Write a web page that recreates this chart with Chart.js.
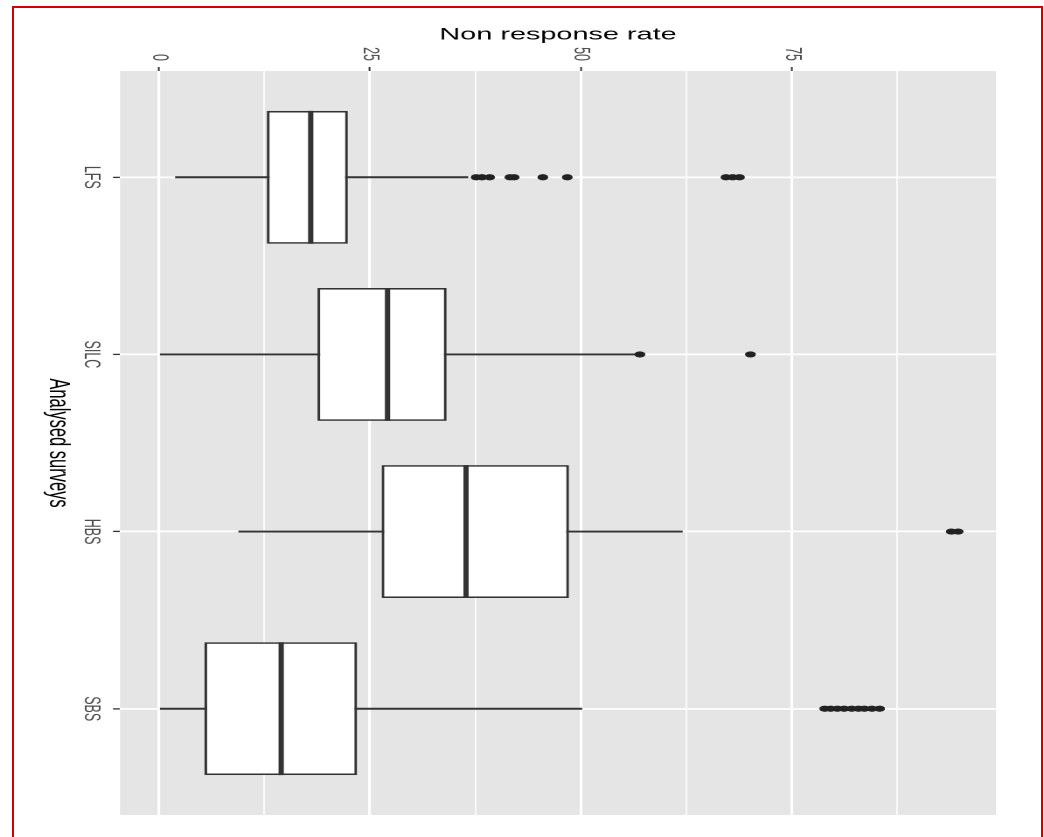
<!DOCTYPE html>
<html>
<head>
<meta charset="utf-8">
<script src="https://cdn.jsdelivr.net/npm/chart.js"></script>
<style>
  html, body { margin: 0; padding: 0; background: #fff; }
  body { width: 1044px; height: 837px; overflow: hidden; position: relative; }
  #stretch { position: absolute; left: 0; top: 0; transform: scaleX(1.7487); transform-origin: 0 0; }
  #frame { position: absolute; left: 12px; top: 6px; width: 1027px; height: 840px; border: 2px solid #d00000; border-bottom: none; }
</style>
</head>
<body>
<div id="stretch"><canvas id="myChart" width="597" height="837"></canvas></div>
<div id="frame"></div>
<script>
const categories = ["LFS", "SILC", "HBS", "SBS"];
const whiskerLow = [2.0, 0.2, 9.5, 0.2];
const lowerQuartile = [12.8, 18.8, 26.4, 5.4];
const medians = [18.0, 27.1, 36.4, 14.5];
const upperQuartile = [22.4, 34.1, 48.6, 23.5];
const whiskerHigh = [36.6, 56.6, 62.0, 50.1];

const outliersLFS = [37.6, 38.3, 39.2, 41.6, 42.1, 45.5, 48.4, 67.2, 68.0, 68.8];
const outliersSILC = [57.0, 70.1];
const outliersHBS = [93.9, 94.7];
const outliersSBS = [78.9, 79.6, 80.4, 81.2, 82.1, 82.9, 83.6, 84.5, 85.4];
const outlierLists = [outliersLFS, outliersSILC, outliersHBS, outliersSBS];

const xTickLabels = [0, 25, 50, 75];
const xGridValues = [0, 12.5, 25, 37.5, 50, 62.5, 75, 87.5];

const xTitle = "Non response rate";
const yTitle = "Analysed surveys";

// the reference image is stretched sideways, the canvas is drawn narrow and scaled by css
const FONT = "'Liberation Sans', Arial, sans-serif";

function rotatedText(ctx, text, x, y, align) {
  ctx.save();
  ctx.translate(x, y);
  ctx.rotate(Math.PI / 2);
  ctx.textAlign = align;
  ctx.textBaseline = "middle";
  ctx.fillText(text, 0, 0);
  ctx.restore();
}

const ggplotLook = {
  id: "ggplotLook",
  beforeDraw(chart) {
    const { ctx, chartArea: a } = chart;
    ctx.save();
    ctx.fillStyle = "#e5e5e5";
    ctx.fillRect(a.left, a.top, a.right - a.left, a.bottom - a.top);
    ctx.restore();
  },
  afterDatasetsDraw(chart) {
    const { ctx } = chart;
    const x = chart.scales.x;
    const boxes = chart.getDatasetMeta(1).data;
    ctx.save();
    ctx.strokeStyle = "#333";
    ctx.lineWidth = 3;
    boxes.forEach((bar, i) => {
      const px = x.getPixelForValue(medians[i]);
      ctx.beginPath();
      ctx.moveTo(px, bar.y - bar.height / 2);
      ctx.lineTo(px, bar.y + bar.height / 2);
      ctx.stroke();
    });
    ctx.restore();
  },
  afterDraw(chart) {
    const { ctx, chartArea: a } = chart;
    const x = chart.scales.x;
    const y = chart.scales.y;
    ctx.save();
    ctx.fillStyle = "#4d4d4d";
    ctx.font = "12.5px " + FONT;
    xTickLabels.forEach((v) => {
      rotatedText(ctx, String(v), x.getPixelForValue(v), 61, "right");
    });
    categories.forEach((c, i) => {
      rotatedText(ctx, c, 52, y.getPixelForValue(i), "center");
    });
    ctx.fillStyle = "#000";
    ctx.font = "16.5px " + FONT;
    ctx.textAlign = "center";
    ctx.textBaseline = "middle";
    ctx.fillText(xTitle, (a.left + a.right) / 2, 35);
    rotatedText(ctx, yTitle, 33, (a.top + a.bottom) / 2, "center");
    ctx.restore();
  },
};

new Chart(document.getElementById("myChart"), {
  type: "bar",
  data: {
    datasets: [
      {
        label: "whiskers",
        data: categories.map((c, i) => ({ x: [whiskerLow[i], whiskerHigh[i]], y: i })),
        backgroundColor: "#333",
        barThickness: 1.3,
        grouped: false,
        order: 3,
      },
      {
        label: "boxes",
        data: categories.map((c, i) => ({ x: [lowerQuartile[i], upperQuartile[i]], y: i })),
        backgroundColor: "#fff",
        borderColor: "#333",
        borderWidth: 1.6,
        borderSkipped: false,
        grouped: false,
        categoryPercentage: 1,
        barPercentage: 0.75,
        order: 2,
      },
      {
        type: "scatter",
        label: "outliers",
        data: outlierLists.flatMap((vals, i) => vals.map((v) => ({ x: v, y: i }))),
        backgroundColor: "#222",
        borderWidth: 0,
        pointRadius: 3.1,
        order: 1,
      },
    ],
  },
  options: {
    indexAxis: "y",
    responsive: false,
    animation: false,
    devicePixelRatio: 2,
    events: [],
    layout: {
      padding: { left: 64.6, right: 27.4, top: 67, bottom: 22 },
    },
    plugins: {
      legend: { display: false },
      tooltip: { enabled: false },
    },
    scales: {
      x: {
        type: "linear",
        position: "top",
        min: -4.6,
        max: 99.2,
        afterBuildTicks: (scale) => {
          scale.ticks = xGridValues.map((v) => ({ value: v }));
        },
        ticks: { display: false },
        grid: {
          color: "#fff",
          lineWidth: (ctx) => (ctx.tick && ctx.tick.value % 25 === 0 ? 1.6 : 0.8),
          tickColor: (ctx) => (ctx.tick && ctx.tick.value % 25 === 0 ? "#333" : "rgba(0,0,0,0)"),
          tickLength: 4,
          tickWidth: 1,
        },
        border: { display: false },
      },
      y: {
        type: "linear",
        position: "left",
        reverse: true,
        offset: false,
        min: -0.6,
        max: 3.6,
        afterBuildTicks: (scale) => {
          scale.ticks = categories.map((c, i) => ({ value: i }));
        },
        ticks: { display: false },
        grid: {
          offset: false,
          color: "#fff",
          lineWidth: 1.8,
          tickColor: "#333",
          tickLength: 4,
          tickWidth: 1.3,
        },
        border: { display: false },
      },
    },
  },
  plugins: [ggplotLook],
});
</script>
</body>
</html>
